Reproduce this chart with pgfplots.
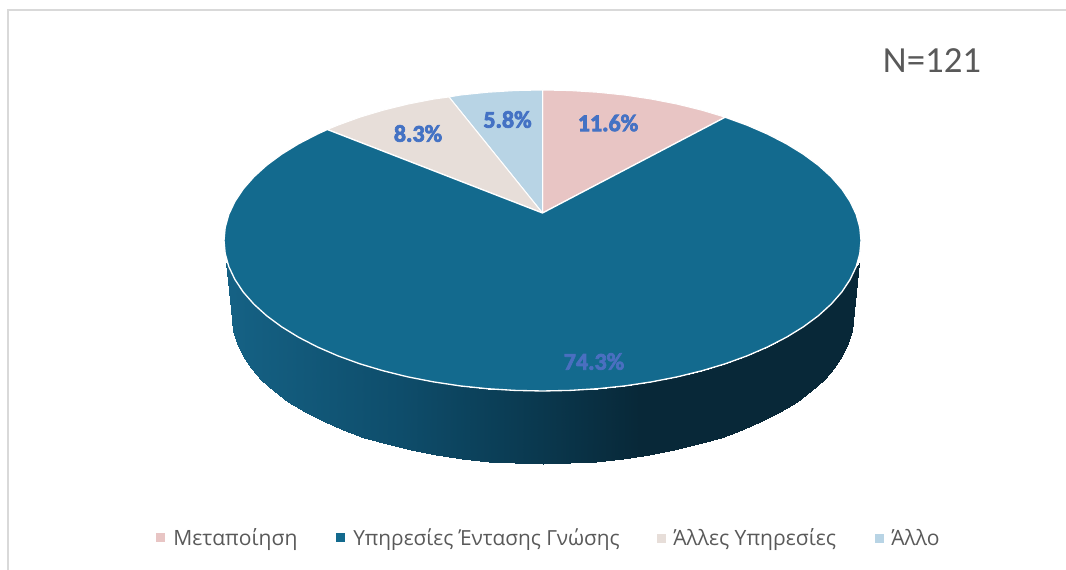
\documentclass[border=0pt]{standalone}
\usepackage{pgfplots}
\usepackage{fontspec}
\setmainfont{Carlito}
\newfontfamily\legfont{Open Sans}
\newfontfamily\labfont[FakeBold=3]{Carlito Bold}
\pgfplotsset{compat=1.18}
\usepgfplotslibrary{patchplots}
\definecolor{cpink}{HTML}{E8C5C4}
\definecolor{cteal}{HTML}{136A8E}
\definecolor{cbeige}{HTML}{E7DED9}
\definecolor{clblue}{HTML}{B8D4E5}
\definecolor{clabel}{HTML}{4472C4}
\definecolor{clab}{HTML}{4A6FC0}
\definecolor{cgrey}{HTML}{595959}
\definecolor{cframe}{HTML}{D9D9D9}
\begin{document}
\begin{tikzpicture}
\path[use as bounding box] (0,0) rectangle (799.5pt,427.5pt);
\begin{axis}[
  at={(0,0)},anchor=south west,
  x=0.75pt,y=0.75pt,scale only axis,
  width=799.5pt,height=427.5pt,
  xmin=0,xmax=1066,ymin=0,ymax=570,y dir=reverse,
  axis lines=none,clip=true,
  colormap={rim}{rgb255(232)=(21,97,132); rgb255(400)=(14,77,107); rgb255(540)=(10,56,78); rgb255(640)=(8,40,56); rgb255(853)=(8,40,56)},
  point meta min=232,point meta max=853,
]
% frame
\addplot[cframe,line width=1.5pt,forget plot] coordinates {(8,570) (8,10) (1066,10)};
% side of the pie
\addplot[surf,shader=interp,mesh/rows=2,point meta=x,forget plot] table {
226 263
227.3 265
228.8 266.6
234.9 279.5
243.2 292
253.8 304.1
266.7 315.8
281.6 326.8
298.5 337.2
317.3 346.9
337.8 355.8
359.8 363.8
383.2 370.8
407.9 376.9
433.6 381.9
460.1 385.9
487.2 388.7
514.7 390.4
542.5 391
570.3 390.4
597.8 388.7
624.9 385.9
651.4 381.9
677.1 376.9
701.8 370.8
725.2 363.8
747.2 355.8
767.7 346.9
786.5 337.2
803.4 326.8
818.3 315.8
831.2 304.1
841.8 292
850.1 279.5
856.2 266.6
857.7 265
859 263

232 318
233.1 330.7
236.6 343.3
242.6 355.8
250.7 368
261 379.7
273.6 391
288.1 401.7
304.6 411.8
322.9 421.2
342.9 429.8
364.4 437.6
387.2 444.4
411.3 450.3
436.3 455.2
462.2 459
488.6 461.8
515.4 463.4
542.5 464
569.6 463.4
596.4 461.8
622.8 459
648.7 455.2
673.7 450.3
697.8 444.4
720.6 437.6
742.1 429.8
762.1 421.2
780.4 411.8
796.9 401.7
811.4 391
824 379.7
834.3 368
842.4 355.8
848.4 343.3
851.9 330.7
853 318
};
% Mεταποίηση 11.6
\addplot[fill=cpink,draw=white,line width=0.75pt,forget plot] coordinates {
(542.5,213) (542.5,90) (570.3,90.6) (597.8,92.3) (624.9,95.1) (651.4,99.1) (677.1,104.1) (701.8,110.2) (725.2,117.2)} -- cycle;
% Άλλο 5.8
\addplot[fill=clblue,draw=white,line width=0.75pt,forget plot] coordinates {
(542.5,213) (449,97) (460.1,95.1) (487.2,92.3) (514.7,90.6) (542.5,90)} -- cycle;
% Άλλες 8.3
\addplot[fill=cbeige,draw=white,line width=0.75pt,forget plot] coordinates {
(542.5,213) (327.3,129.5) (337.8,125.2) (359.8,117.2) (383.2,110.2) (407.9,104.1) (433.6,99.1) (449,97)} -- cycle;
% Υπηρεσίες 74.3
\addplot[fill=cteal,draw=white,line width=1pt,forget plot] coordinates {
(542.5,213) (725.2,117.2) (747.2,125.2) (767.7,134.1) (786.5,143.8) (803.4,154.2) (818.3,165.2) (831.2,176.9) (841.8,189) (850.1,201.5) (856.2,214.4) (859.8,227.4) (861,240.5)
(859.8,253.6) (856.2,266.6) (850.1,279.5) (841.8,292) (831.2,304.1) (818.3,315.8) (803.4,326.8) (786.5,337.2) (767.7,346.9) (747.2,355.8) (725.2,363.8) (701.8,370.8) (677.1,376.9) (651.4,381.9) (624.9,385.9) (597.8,388.7) (570.3,390.4) (542.5,391)
(514.7,390.4) (487.2,388.7) (460.1,385.9) (433.6,381.9) (407.9,376.9) (383.2,370.8) (359.8,363.8) (337.8,355.8) (317.3,346.9) (298.5,337.2) (281.6,326.8) (266.7,315.8) (253.8,304.1) (243.2,292) (234.9,279.5) (228.8,266.6) (225.2,253.6) (224,240.5)
(225.2,227.4) (228.8,214.4) (234.9,201.5) (243.2,189) (253.8,176.9) (266.7,165.2) (281.6,154.2) (298.5,143.8) (317.3,134.1) (327.3,129.5)} -- cycle;
% legend markers
\addplot[only marks,mark=square*,mark size=2.9pt,cpink,forget plot] coordinates {(160,537.5)};
\addplot[only marks,mark=square*,mark size=2.9pt,cteal,forget plot] coordinates {(340.5,537.5)};
\addplot[only marks,mark=square*,mark size=2.9pt,cbeige,forget plot] coordinates {(661,538)};
\addplot[only marks,mark=square*,mark size=2.9pt,clblue,forget plot] coordinates {(879,538)};
% labels
\node[text=clabel,font=\labfont\fontsize{18}{20}\selectfont] at (axis cs:608,123) {11.6\%};
\node[text=clabel,font=\labfont\fontsize{18}{20}\selectfont] at (axis cs:418,133.5) {8.3\%};
\node[text=clabel,font=\labfont\fontsize{18}{20}\selectfont] at (axis cs:507.5,119.5) {5.8\%};
\node[text=clab,font=\labfont\fontsize{18}{20}\selectfont] at (axis cs:594,361.5) {74.3\%};
\node[text=cgrey,font=\fontsize{27.6}{30}\selectfont] at (axis cs:932,60.5) {N=121};
\node[text=cgrey,anchor=base west,inner sep=0pt,font=\legfont\fontsize{15.8}{19}\selectfont] at (axis cs:173,545) {Μεταποίηση};
\node[text=cgrey,anchor=base west,inner sep=0pt,font=\legfont\fontsize{15.6}{19}\selectfont] at (axis cs:353,545) {Υπηρεσίες Έντασης Γνώσης};
\node[text=cgrey,anchor=base west,inner sep=0pt,font=\legfont\fontsize{15.8}{19}\selectfont] at (axis cs:673,545) {Άλλες Υπηρεσίες};
\node[text=cgrey,anchor=base west,inner sep=0pt,font=\legfont\fontsize{15.8}{19}\selectfont] at (axis cs:891,545) {Άλλο};
\end{axis}
\end{tikzpicture}
\end{document}
